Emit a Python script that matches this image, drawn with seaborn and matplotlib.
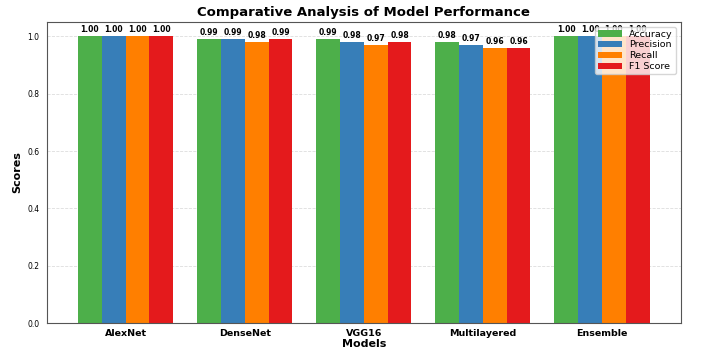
import matplotlib
matplotlib.use("Agg")
import matplotlib.pyplot as plt
import seaborn as sns
import pandas as pd

models = ["AlexNet", "DenseNet", "VGG16", "Multilayered", "Ensemble"]
metrics = ["Accuracy", "Precision", "Recall", "F1 Score"]
accuracy = [1.00, 0.99, 0.99, 0.98, 1.00]
precision = [1.00, 0.99, 0.98, 0.97, 1.00]
recall = [1.00, 0.98, 0.97, 0.96, 1.00]
f1 = [1.00, 0.99, 0.98, 0.96, 1.00]
colors = ["#4daf4a", "#377eb8", "#ff7f00", "#e41a1c"]

rows = []
for m, vals in zip(metrics, [accuracy, precision, recall, f1]):
    for mod, v in zip(models, vals):
        rows.append({"Model": mod, "Metric": m, "Score": v})
df = pd.DataFrame(rows)

sns.set_style("white")
plt.rcParams.update({"text.color": "black", "axes.labelcolor": "black",
                     "xtick.color": "black", "ytick.color": "black"})
fig, ax = plt.subplots(figsize=(7.03, 3.55), dpi=100)
sns.barplot(data=df, x="Model", y="Score", hue="Metric", hue_order=metrics,
            order=models, palette=colors, saturation=1, width=0.8, ax=ax,
            linewidth=0, edgecolor="none", zorder=2)

for cont in ax.containers:
    ax.bar_label(cont, fmt="%.2f", fontsize=5.5, fontweight="bold", padding=1.5, color="black")

ax.set_ylim(0, 1.05)
ax.set_xlim(-0.66, 4.66)
ax.yaxis.grid(True, linestyle="--", color="#dddddd", linewidth=0.6, zorder=0)
ax.set_axisbelow(True)
ax.set_title("Comparative Analysis of Model Performance", fontsize=9.5, fontweight="bold", pad=4)
ax.set_xlabel("Models", fontsize=8, fontweight="bold", labelpad=1)
ax.set_ylabel("Scores", fontsize=8, fontweight="bold")
ax.tick_params(axis="y", labelsize=5.5, length=2)
ax.tick_params(axis="x", length=0, pad=4)
for lab in ax.get_xticklabels():
    lab.set_fontsize(6.8)
    lab.set_fontweight("bold")
for s in ax.spines.values():
    s.set_color("#555555")
    s.set_linewidth(0.8)
ax.legend(loc="upper right", fontsize=6.8, frameon=True, handlelength=2.5,
          borderpad=0.3, labelspacing=0.2, title=None)
fig.subplots_adjust(left=0.067, right=0.968, top=0.938, bottom=0.09)
fig.savefig("out.png", dpi=100)
